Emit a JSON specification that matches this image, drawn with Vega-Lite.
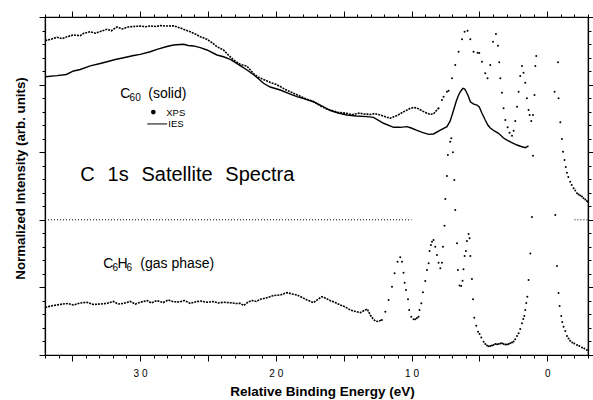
{
  "$schema": "https://vega.github.io/schema/vega-lite/v6.json",
  "width": 543,
  "height": 338,
  "autosize": "none",
  "padding": {"left": 45, "top": 17, "right": 5, "bottom": 45},
  "background": "white",
  "config": {
    "font": "Liberation Sans",
    "view": {"stroke": "black", "strokeWidth": 1.2},
    "axis": {"domainColor": "black", "domainWidth": 1.2, "tickColor": "black", "tickWidth": 1, "grid": false, "labelColor": "black", "titleColor": "black"}
  },
  "datasets": {
    "xps": [
      {"e":36.98,"v":23.26},{"e":36.61,"v":23.34},{"e":36.12,"v":23.50},{"e":35.73,"v":23.40},{"e":35.38,"v":23.54},{"e":34.90,"v":23.67},{"e":34.40,"v":23.62},{"e":34.16,"v":23.79},{"e":33.67,"v":23.91},{"e":33.30,"v":23.80},{"e":32.93,"v":23.93},{"e":32.43,"v":24.09},{"e":32.12,"v":23.98},{"e":31.70,"v":24.26},{"e":31.31,"v":24.12},{"e":30.87,"v":24.26},{"e":30.48,"v":24.30},{"e":29.99,"v":24.33},{"e":29.60,"v":24.28},{"e":29.25,"v":24.34},{"e":28.85,"v":24.30},{"e":28.51,"v":24.36},{"e":28.02,"v":24.33},{"e":27.53,"v":24.35},{"e":27.04,"v":24.19},{"e":26.67,"v":24.04},{"e":26.30,"v":23.91},{"e":25.93,"v":23.74},{"e":25.56,"v":23.54},{"e":25.07,"v":23.35},{"e":24.70,"v":23.10},{"e":24.33,"v":22.80},{"e":23.85,"v":22.56},{"e":23.50,"v":22.20},{"e":23.11,"v":21.82},{"e":22.62,"v":21.50},{"e":22.12,"v":21.36},{"e":21.64,"v":20.82},{"e":21.30,"v":20.55},{"e":20.90,"v":20.38},{"e":20.41,"v":20.16},{"e":20.00,"v":20.02},{"e":19.67,"v":19.86},{"e":19.30,"v":19.64},{"e":18.93,"v":19.47},{"e":18.44,"v":19.25},{"e":17.83,"v":18.97},{"e":17.21,"v":18.73},{"e":16.72,"v":18.42},{"e":16.30,"v":18.22},{"e":15.98,"v":18.12},{"e":15.40,"v":17.94},{"e":14.76,"v":17.88},{"e":14.40,"v":17.76},{"e":14.14,"v":17.83},{"e":13.80,"v":17.90},{"e":13.53,"v":17.83},{"e":13.04,"v":17.79},{"e":12.70,"v":17.86},{"e":12.30,"v":17.75},{"e":11.81,"v":17.58},{"e":11.57,"v":17.51},{"e":11.30,"v":17.62},{"e":11.07,"v":17.71},{"e":10.61,"v":17.97},{"e":10.09,"v":18.25},{"e":9.85,"v":18.30},{"e":9.60,"v":18.27},{"e":9.21,"v":18.05},{"e":8.86,"v":17.88},{"e":8.62,"v":17.80},{"e":8.38,"v":17.83},{"e":8.13,"v":18.12},{"e":8.01,"v":18.25},
      {"e":7.76,"v":18.86},{"e":7.64,"v":19.11},{"e":7.39,"v":19.47},{"e":7.27,"v":19.55},{"e":7.02,"v":20.47},{"e":6.78,"v":21.45},{"e":6.53,"v":22.43},{"e":6.28,"v":23.35},{"e":6.09,"v":23.91},{"e":5.87,"v":23.99},{"e":5.67,"v":23.35},{"e":5.43,"v":22.43},{"e":5.13,"v":22.36},{"e":5.01,"v":22.34},{"e":4.81,"v":21.69},{"e":4.57,"v":20.84},{"e":4.40,"v":20.47},{"e":4.20,"v":21.45},{"e":4.00,"v":23.17},{"e":3.78,"v":23.74},{"e":3.63,"v":22.88},{"e":3.54,"v":21.65},{"e":3.46,"v":20.47},{"e":3.34,"v":19.40},{"e":3.22,"v":18.25},{"e":3.09,"v":17.38},{"e":2.92,"v":16.84},{"e":2.78,"v":16.44},{"e":2.60,"v":16.22},{"e":2.48,"v":16.59},{"e":2.36,"v":17.31},{"e":2.23,"v":18.37},{"e":2.11,"v":19.47},{"e":1.99,"v":20.64},{"e":1.86,"v":21.38},{"e":1.75,"v":20.88},{"e":1.62,"v":20.14},{"e":1.50,"v":18.99},{"e":1.38,"v":18.12},{"e":1.30,"v":17.75},{"e":1.18,"v":17.31},{"e":1.05,"v":17.75},{"e":0.94,"v":19.23},{"e":0.88,"v":21.38},{"e":0.81,"v":22.12},
      {"e":-0.79,"v":21.65},{"e":-0.83,"v":18.99},{"e":-0.96,"v":17.21},{"e":-1.08,"v":15.98},{"e":-1.16,"v":15.04},{"e":-1.27,"v":14.42},{"e":-1.36,"v":13.91},{"e":-1.45,"v":13.48},{"e":-1.55,"v":13.17},{"e":-1.69,"v":12.82},{"e":-1.80,"v":12.57},{"e":-1.94,"v":12.33},{"e":-2.06,"v":12.17},{"e":-2.19,"v":11.96},{"e":-2.31,"v":11.87},{"e":-2.43,"v":11.80},{"e":-2.56,"v":11.72},{"e":-2.67,"v":11.59},{"e":-2.80,"v":11.50},{"e":-2.92,"v":11.39},{"e":-3.00,"v":11.32}
    ],
    "ies": [
      {"e":36.98,"v":20.58},{"e":36.12,"v":20.66},{"e":35.43,"v":20.75},{"e":34.90,"v":21.01},{"e":34.40,"v":21.12},{"e":33.67,"v":21.38},{"e":32.93,"v":21.56},{"e":32.43,"v":21.69},{"e":31.82,"v":21.86},{"e":31.21,"v":21.99},{"e":30.47,"v":22.15},{"e":29.99,"v":22.24},{"e":29.25,"v":22.43},{"e":28.75,"v":22.61},{"e":28.02,"v":22.82},{"e":27.53,"v":22.93},{"e":27.04,"v":22.97},{"e":26.79,"v":22.98},{"e":26.45,"v":22.89},{"e":26.06,"v":22.86},{"e":25.56,"v":22.74},{"e":25.07,"v":22.56},{"e":24.33,"v":22.19},{"e":23.85,"v":22.06},{"e":23.35,"v":21.87},{"e":22.62,"v":21.41},{"e":22.12,"v":21.08},{"e":21.51,"v":20.64},{"e":20.90,"v":20.10},{"e":20.41,"v":19.82},{"e":19.67,"v":19.60},{"e":18.93,"v":19.30},{"e":18.44,"v":19.11},{"e":17.83,"v":18.93},{"e":17.21,"v":18.73},{"e":16.72,"v":18.49},{"e":15.98,"v":18.07},{"e":15.40,"v":17.90},{"e":14.76,"v":17.75},{"e":14.07,"v":17.68},{"e":13.28,"v":17.63},{"e":12.80,"v":17.58},{"e":12.06,"v":17.14},{"e":11.32,"v":16.84},{"e":10.83,"v":16.84},{"e":10.34,"v":16.89},{"e":10.02,"v":16.79},{"e":9.60,"v":16.61},{"e":9.21,"v":16.46},{"e":8.74,"v":16.32},{"e":8.38,"v":16.35},{"e":7.88,"v":16.64},{"e":7.39,"v":16.89},{"e":7.15,"v":17.31},{"e":6.90,"v":18.12},{"e":6.70,"v":18.79},{"e":6.53,"v":19.23},{"e":6.37,"v":19.53},{"e":6.21,"v":19.73},{"e":6.08,"v":19.67},{"e":5.97,"v":19.47},{"e":5.82,"v":19.16},{"e":5.67,"v":18.73},{"e":5.45,"v":18.57},{"e":5.18,"v":18.49},{"e":5.01,"v":18.34},{"e":4.81,"v":17.88},{"e":4.57,"v":17.38},{"e":4.38,"v":17.01},{"e":4.20,"v":16.79},{"e":3.90,"v":16.57},{"e":3.59,"v":16.40},{"e":3.22,"v":16.05},{"e":2.97,"v":15.90},{"e":2.65,"v":15.72},{"e":2.23,"v":15.53},{"e":1.92,"v":15.42},{"e":1.62,"v":15.33},{"e":1.38,"v":15.46}
    ],
    "benz": [
      {"e":36.98,"v":3.51},{"e":36.61,"v":3.62},{"e":36.12,"v":3.70},{"e":35.73,"v":3.77},{"e":35.29,"v":3.81},{"e":34.90,"v":3.70},{"e":34.40,"v":3.85},{"e":33.91,"v":3.90},{"e":33.45,"v":3.74},{"e":32.93,"v":3.77},{"e":32.43,"v":3.82},{"e":31.97,"v":3.96},{"e":31.60,"v":3.77},{"e":31.21,"v":3.82},{"e":30.72,"v":3.96},{"e":30.35,"v":3.77},{"e":29.99,"v":3.90},{"e":29.47,"v":4.03},{"e":29.18,"v":3.85},{"e":28.75,"v":4.02},{"e":28.29,"v":3.88},{"e":27.92,"v":4.07},{"e":27.53,"v":3.94},{"e":27.11,"v":3.92},{"e":26.74,"v":4.03},{"e":26.30,"v":3.82},{"e":25.93,"v":3.92},{"e":25.56,"v":3.99},{"e":25.07,"v":3.90},{"e":24.60,"v":3.96},{"e":24.24,"v":3.85},{"e":23.85,"v":3.90},{"e":23.35,"v":3.87},{"e":22.91,"v":3.81},{"e":22.62,"v":3.82},{"e":22.37,"v":3.66},{"e":22.03,"v":3.92},{"e":21.73,"v":4.03},{"e":21.44,"v":3.96},{"e":21.14,"v":4.12},{"e":20.70,"v":4.22},{"e":20.16,"v":4.40},{"e":19.67,"v":4.44},{"e":19.17,"v":4.61},{"e":18.78,"v":4.51},{"e":18.44,"v":4.44},{"e":18.12,"v":4.29},{"e":17.70,"v":4.07},{"e":17.21,"v":3.87},{"e":16.87,"v":4.14},{"e":16.60,"v":4.31},{"e":16.28,"v":4.18},{"e":15.98,"v":4.02},{"e":15.62,"v":3.88},{"e":15.25,"v":3.70},{"e":14.88,"v":3.55},{"e":14.51,"v":3.33},{"e":14.14,"v":3.22},{"e":13.78,"v":3.13},{"e":13.41,"v":3.33},{"e":13.26,"v":3.40},{"e":13.04,"v":2.96},{"e":12.85,"v":2.70},{"e":12.67,"v":2.51},{"e":12.45,"v":2.48},{"e":12.18,"v":2.59},
      {"e":11.93,"v":3.20},{"e":11.69,"v":4.07},{"e":11.44,"v":5.05},{"e":11.25,"v":6.04},{"e":11.03,"v":6.90},{"e":10.83,"v":7.23},{"e":10.70,"v":6.90},{"e":10.59,"v":6.09},{"e":10.51,"v":5.35},{"e":10.41,"v":4.81},{"e":10.26,"v":4.12},{"e":10.17,"v":3.33},{"e":10.02,"v":2.83},{"e":9.85,"v":2.64},{"e":9.72,"v":2.64},{"e":9.60,"v":2.74},{"e":9.48,"v":2.83},{"e":9.41,"v":3.33},{"e":9.28,"v":3.82},{"e":9.16,"v":4.64},{"e":8.99,"v":5.47},{"e":8.86,"v":6.29},{"e":8.74,"v":6.78},{"e":8.67,"v":7.69},{"e":8.57,"v":8.14},{"e":8.49,"v":8.38},{"e":8.38,"v":8.51},{"e":8.25,"v":8.01},{"e":8.13,"v":7.40},{"e":8.01,"v":6.83},{"e":7.88,"v":6.41},{"e":7.76,"v":6.83},{"e":7.68,"v":8.01},{"e":7.57,"v":9.56},{"e":7.51,"v":11.54},{"e":7.39,"v":13.24},{"e":7.32,"v":14.79},{"e":7.15,"v":15.78},{"e":7.07,"v":16.03},{"e":6.95,"v":14.99},{"e":6.85,"v":12.94},{"e":6.78,"v":10.72},{"e":6.65,"v":8.26},{"e":6.58,"v":6.29},{"e":6.46,"v":5.14},{"e":6.34,"v":5.10},{"e":6.24,"v":5.50},{"e":6.17,"v":6.34},{"e":6.09,"v":7.32},{"e":5.99,"v":7.69},{"e":5.92,"v":8.43},{"e":5.80,"v":8.95},{"e":5.72,"v":8.63},{"e":5.67,"v":7.32},{"e":5.55,"v":5.62},{"e":5.47,"v":4.12},{"e":5.38,"v":2.76},{"e":5.23,"v":2.17},{"e":5.10,"v":1.72},{"e":4.99,"v":1.55},{"e":4.86,"v":1.29},{"e":4.69,"v":0.98},{"e":4.57,"v":0.81},{"e":4.44,"v":0.70},{"e":4.32,"v":0.64},{"e":4.20,"v":0.67},{"e":4.07,"v":0.70},{"e":3.96,"v":0.74},{"e":3.83,"v":0.81},{"e":3.71,"v":0.79},{"e":3.59,"v":0.81},{"e":3.46,"v":0.85},{"e":3.34,"v":0.87},{"e":3.22,"v":0.81},{"e":3.09,"v":0.78},{"e":2.97,"v":0.78},{"e":2.85,"v":0.81},{"e":2.73,"v":0.87},{"e":2.60,"v":0.92},{"e":2.48,"v":1.00},{"e":2.36,"v":1.16},{"e":2.23,"v":1.41},{"e":2.11,"v":1.61},{"e":1.99,"v":1.92},{"e":1.86,"v":2.34},{"e":1.77,"v":2.66},{"e":1.69,"v":2.88},{"e":1.62,"v":3.33},{"e":1.55,"v":3.85},{"e":1.47,"v":4.31},{"e":1.38,"v":5.55},{"e":1.25,"v":7.51},{"e":1.13,"v":10.21},{"e":1.05,"v":14.74},
      {"e":-0.54,"v":19.47},{"e":-0.59,"v":10.36},{"e":-0.71,"v":6.58},{"e":-0.83,"v":4.59},{"e":-0.91,"v":3.62},{"e":-1.03,"v":2.88},{"e":-1.10,"v":2.44},{"e":-1.20,"v":2.09},{"e":-1.33,"v":1.78},{"e":-1.45,"v":1.41},{"e":-1.57,"v":1.22},{"e":-1.69,"v":1.06},{"e":-1.84,"v":0.92},{"e":-1.99,"v":0.85},{"e":-2.19,"v":0.74},{"e":-2.36,"v":0.67},{"e":-2.56,"v":0.55},{"e":-2.73,"v":0.48},{"e":-2.92,"v":0.37}
    ],
    "ref": [{"e":37,"e2":10,"v":10},{"e":-2,"e2":-3,"v":10}],
    "legline": [{"e":29.47,"e2":28.0,"v":17.09}],
    "legdot": [{"e":29.02,"v":17.97}],
    "notes": [
      {"e":34.40,"v":12.87,"t":"C\u00a0\u00a0\u200a1s\u00a0\u00a0\u200aSatellite\u00a0\u00a0\u200aSpectra","k":"big"},
      {"e":31.45,"v":19.01,"t":"C","k":"mid"},
      {"e":30.77,"v":18.80,"t":"60","k":"sub"},
      {"e":29.39,"v":19.01,"t":"(solid)","k":"mid"},
      {"e":32.71,"v":6.43,"t":"C","k":"mid"},
      {"e":32.02,"v":6.22,"t":"6","k":"sub"},
      {"e":31.66,"v":6.43,"t":"H","k":"mid"},
      {"e":30.99,"v":6.22,"t":"6","k":"sub"},
      {"e":29.98,"v":6.43,"t":"(gas phase)","k":"mid"},
      {"e":28.07,"v":17.71,"t":"XPS","k":"small"},
      {"e":27.92,"v":16.83,"t":"IES","k":"small"}
    ]
  },
  "encoding": {
    "x": {"field": "e", "type": "quantitative", "scale": {"domain": [-3, 37], "reverse": true, "nice": false, "zero": false}, "axis": null},
    "y": {"field": "v", "type": "quantitative", "scale": {"domain": [0, 25], "nice": false, "zero": false}, "axis": null}
  },
  "layer": [
    {
      "data": {"name": "ref"},
      "mark": {"type": "rule", "strokeDash": [1, 2], "strokeWidth": 1, "color": "black"},
      "encoding": {
        "x": {"field": "e", "type": "quantitative", "scale": {"domain": [-3, 37], "reverse": true, "nice": false, "zero": false},
          "axis": {"orient": "bottom", "values": [-3,-2,-1,0,1,2,3,4,5,6,7,8,9,10,11,12,13,14,15,16,17,18,19,20,21,22,23,24,25,26,27,28,29,30,31,32,33,34,35,36,37],
            "tickSize": {"condition": {"test": "datum.value % 5 === 0", "value": 6}, "value": 3},
            "labelExpr": "datum.value === 30 ? '3 0' : datum.value === 20 ? '2 0' : datum.value === 10 ? '1 0' : datum.value === 0 ? '0' : ''",
            "labelFontSize": 10, "labelPadding": 7, "labelOverlap": false, "labelFlush": false,
            "title": "Relative Binding Energy (eV)", "titleFontSize": 13.5, "titleFontWeight": "bold", "titlePadding": 6, "titleX": 277}},
        "x2": {"field": "e2"},
        "y": {"field": "v", "type": "quantitative", "scale": {"domain": [0, 25], "nice": false, "zero": false},
          "axis": {"orient": "left", "values": [0,1,2,3,4,5,6,7,8,9,10,11,12,13,14,15,16,17,18,19,20,21,22,23,24,25],
            "tickSize": {"condition": {"test": "datum.value % 5 === 0", "value": 6}, "value": 3},
            "labels": false, "title": "Normalized Intensity (arb. units)", "titleFontSize": 13.3, "titleFontWeight": "bold", "titlePadding": 11, "titleY": 161}}
      }
    },
    {
      "data": {"name": "ies"},
      "mark": {"type": "line", "color": "black", "strokeWidth": 1.4},
      "encoding": {
        "x": {"field": "e", "type": "quantitative", "scale": {"domain": [-3, 37], "reverse": true, "nice": false, "zero": false},
          "axis": {"orient": "top", "values": [-3,-2,-1,0,1,2,3,4,5,6,7,8,9,10,11,12,13,14,15,16,17,18,19,20,21,22,23,24,25,26,27,28,29,30,31,32,33,34,35,36,37],
            "tickSize": {"condition": {"test": "datum.value % 5 === 0", "value": 6}, "value": 3},
            "labels": false, "title": null}},
        "y": {"field": "v", "type": "quantitative", "scale": {"domain": [0, 25], "nice": false, "zero": false},
          "axis": {"orient": "right", "values": [0,1,2,3,4,5,6,7,8,9,10,11,12,13,14,15,16,17,18,19,20,21,22,23,24,25],
            "tickSize": {"condition": {"test": "datum.value % 5 === 0", "value": 6}, "value": 3},
            "labels": false, "title": null}}
      }
    },
    {
      "data": {"name": "xps"},
      "transform": [{"filter": "datum.e >= 8"}],
      "mark": {"type": "line", "color": "black", "strokeWidth": 1.6, "strokeDash": [2, 1]}
    },
    {
      "data": {"name": "xps"},
      "transform": [{"filter": "datum.e < 8.1"}],
      "mark": {"type": "point", "filled": true, "shape": "circle", "size": 4, "color": "black", "opacity": 1, "clip": true}
    },
    {
      "data": {"name": "benz"},
      "transform": [{"filter": "datum.e >= 12.1"}],
      "mark": {"type": "line", "color": "black", "strokeWidth": 1.6, "strokeDash": [2, 1]}
    },
    {
      "data": {"name": "benz"},
      "transform": [{"filter": "datum.e < 12.2"}],
      "mark": {"type": "point", "filled": true, "shape": "circle", "size": 4, "color": "black", "opacity": 1, "clip": true}
    },
    {
      "data": {"name": "legline"},
      "mark": {"type": "rule", "color": "black", "strokeWidth": 1},
      "encoding": {"x2": {"field": "e2"}}
    },
    {
      "data": {"name": "legdot"},
      "mark": {"type": "point", "filled": true, "shape": "circle", "size": 22, "color": "black", "opacity": 1}
    },
    {
      "data": {"name": "notes"},
      "transform": [{"filter": "datum.k === 'big'"}],
      "mark": {"type": "text", "align": "left", "baseline": "alphabetic", "fontSize": 20, "color": "black"},
      "encoding": {"text": {"field": "t"}}
    },
    {
      "data": {"name": "notes"},
      "transform": [{"filter": "datum.k === 'mid'"}],
      "mark": {"type": "text", "align": "left", "baseline": "alphabetic", "fontSize": 14, "color": "black"},
      "encoding": {"text": {"field": "t"}}
    },
    {
      "data": {"name": "notes"},
      "transform": [{"filter": "datum.k === 'sub'"}],
      "mark": {"type": "text", "align": "left", "baseline": "alphabetic", "fontSize": 10, "color": "black"},
      "encoding": {"text": {"field": "t"}}
    },
    {
      "data": {"name": "notes"},
      "transform": [{"filter": "datum.k === 'small'"}],
      "mark": {"type": "text", "align": "left", "baseline": "alphabetic", "fontSize": 9.5, "color": "black"},
      "encoding": {"text": {"field": "t"}}
    }
  ],
  "resolve": {"axis": {"x": "independent", "y": "independent"}}
}
